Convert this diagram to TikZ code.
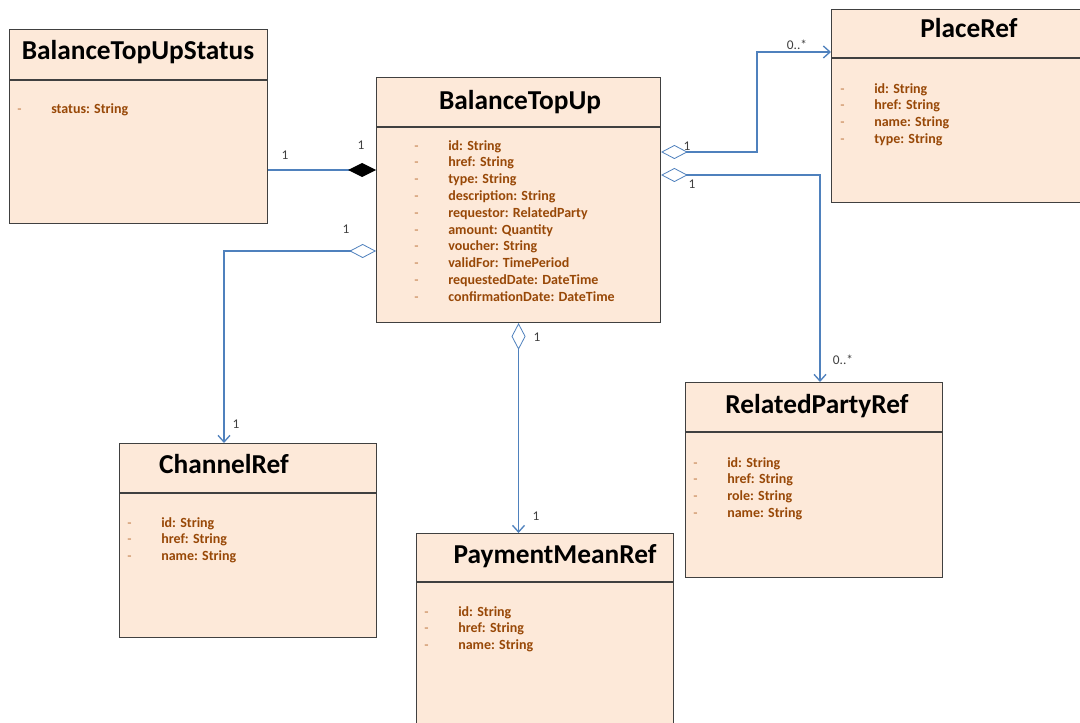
\documentclass[tikz,border=0pt]{standalone}
\usepackage{fontspec}
\setmainfont{Carlito}
\usetikzlibrary{arrows.meta}
\definecolor{peach}{HTML}{FDE9D9}
\definecolor{frame}{HTML}{404040}
\definecolor{attrbrown}{HTML}{984807}
\definecolor{dashbrown}{HTML}{C07A45}
\definecolor{link}{HTML}{4F81BD}
\newcommand{\umlattr}[1]{\makebox[25.5pt][l]{\mdseries\textcolor{dashbrown}{-}}#1}

\begin{document}
\begin{tikzpicture}[x=0.75pt, y=-0.75pt,
      cls/.style={rectangle, draw=frame, line width=0.8pt, fill=peach,
                  anchor=north west, inner sep=0pt},
      boxsize/.style 2 args={minimum width=#1*0.75pt, minimum height=#2*0.75pt},
      ttl/.style={font=\fontsize{20.5}{24}\selectfont\bfseries, anchor=base, inner sep=0pt},
      attrs/.style={font=\fontsize{10.5}{12.6}\selectfont\bfseries, text=attrbrown,
                    align=left, anchor=north west, inner sep=0pt},
      mult/.style={font=\fontsize{10}{12}\selectfont, text=frame, inner sep=0pt},
      rule/.style={draw=frame, line width=0.8pt},
      conn/.style={draw=link, line width=1.1pt},
      aggr/.style={conn, {Diamond[open, length=20pt, width=10.5pt, line width=0.6pt]}-{Straight Barb[length=5pt, width=9pt, line width=1pt]}},
      compo/.style={conn, -{Diamond[color=black, length=21pt, width=10.5pt]}},
      ]
    \path[use as bounding box, fill=white] (0,0) rectangle (1080,723);

    % class boxes
    \node[cls, boxsize={258}{194}] (status) at (9,29) {};
    \node[cls, boxsize={284}{245}] (topup) at (376,77) {};
    \node[cls, boxsize={252}{193}] (place) at (831,9) {};
    \node[cls, boxsize={257}{195}] (party) at (685,382) {};
    \node[cls, boxsize={257}{194}] (channel) at (119,443) {};
    \node[cls, boxsize={257}{200}] (payment) at (416,533) {};

    \draw[rule] (status.west |- 0,80) -- (status.east |- 0,80);
    \draw[rule] (topup.west |- 0,127) -- (topup.east |- 0,127);
    \draw[rule] (place.west |- 0,58) -- (place.east |- 0,58);
    \draw[rule] (party.west |- 0,432) -- (party.east |- 0,432);
    \draw[rule] (channel.west |- 0,493) -- (channel.east |- 0,493);
    \draw[rule] (payment.west |- 0,582) -- (payment.east |- 0,582);

    % class names
    \node[ttl] (statusname) at (138,60) {BalanceTopUpStatus};
    \node[ttl] (topupname) at (520,110) {BalanceTopUp};
    \node[ttl] (placename) at (969,38) {PlaceRef};
    \node[ttl] (partyname) at (817,413) {RelatedPartyRef};
    \node[ttl] (channelname) at (224,473) {ChannelRef};
    \node[ttl] (paymentname) at (555,563) {PaymentMeanRef};

    % attributes
    \node[attrs] (statusattr) at (17,103) {\umlattr{status: String}};
    \node[attrs] (topupattr) at (414,140) {\umlattr{id: String}\\ \umlattr{href: String}\\
      \umlattr{type: String}\\ \umlattr{description: String}\\ \umlattr{requestor: RelatedParty}\\
      \umlattr{amount: Quantity}\\ \umlattr{voucher: String}\\ \umlattr{validFor: TimePeriod}\\
      \umlattr{requestedDate: DateTime}\\ \umlattr{confirmationDate: DateTime}};
    \node[attrs] (placeattr) at (840,83) {\umlattr{id: String}\\ \umlattr{href: String}\\
      \umlattr{name: String}\\ \umlattr{type: String}};
    \node[attrs] (partyattr) at (693,457) {\umlattr{id: String}\\ \umlattr{href: String}\\
      \umlattr{role: String}\\ \umlattr{name: String}};
    \node[attrs] (channelattr) at (127,517) {\umlattr{id: String}\\ \umlattr{href: String}\\
      \umlattr{name: String}};
    \node[attrs] (paymentattr) at (424,606) {\umlattr{id: String}\\ \umlattr{href: String}\\
      \umlattr{name: String}};

    % associations
    \draw[compo] (status.east |- 0,170) -- (topup.west |- 0,170);
    \draw[aggr] (topup.west |- 0,251) -| (channel.north -| 224,0);
    \draw[aggr] (topup.south) -- (topup.south |- payment.north);
    \draw[aggr] (topup.east |- 0,152) -- (757,152) |- (place.west |- 0,52);
    \draw[aggr] (topup.east |- 0,175) -| (party.north -| 820,0);

    % multiplicities
    \node[mult] (statusone) at (285,155) {1};
    \node[mult] (compone) at (361,145) {1};
    \node[mult] (chanfrom) at (346,229) {1};
    \node[mult] (chanto) at (236,424) {1};
    \node[mult] (payfrom) at (537,337) {1};
    \node[mult] (payto) at (536,516) {1};
    \node[mult] (placefrom) at (687,146) {1};
    \node[mult] (placeto) at (797,45) {0..*};
    \node[mult] (partyfrom) at (692,184) {1};
    \node[mult] (partyto) at (843,360) {0..*};
  \end{tikzpicture}
\end{document}
